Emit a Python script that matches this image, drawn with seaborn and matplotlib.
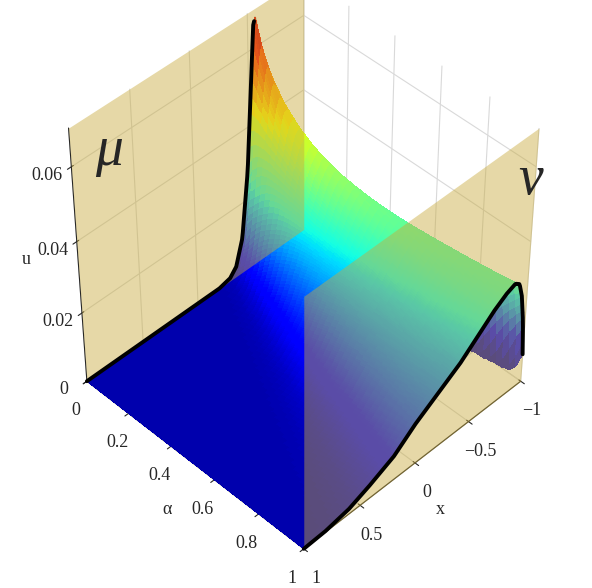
import numpy as np
import matplotlib as mpl
mpl.use('Agg')
import matplotlib.pyplot as plt
import seaborn as sns

sns.set_style('white')
plt.rcParams['font.family'] = ['Liberation Serif', 'DejaVu Serif']

# boundary densities (x, u)
mu_x = [-1.0, -0.8, -0.75, -0.7, -0.65, -0.6, -0.57, -0.55, -0.52, -0.48, -0.42, -0.36, -0.3, -0.2, 1.0]
mu_u = [0.0, 0.0, 0.002, 0.012, 0.035, 0.060, 0.068, 0.066, 0.050, 0.028, 0.010, 0.003, 0.0008, 0.0, 0.0]
nu_x = [-1.0, -0.98, -0.95, -0.92, -0.88, -0.8, -0.7, -0.55, -0.4, -0.2, 0.0, 0.2, 0.4, 0.6, 0.8, 1.0]
nu_u = [0.008, 0.018, 0.026, 0.030, 0.031, 0.030, 0.028, 0.024, 0.020, 0.016, 0.012, 0.007, 0.004, 0.0015, 0.0003, 0.0]
u_ticks = [0, 0.02, 0.04, 0.06]
alpha_ticks = [0, 0.2, 0.4, 0.6, 0.8, 1]
x_ticks = [-1, -0.5, 0, 0.5, 1]

xs = np.linspace(-1, 1, 241)
alphas = np.linspace(0, 1, 41)
mu = np.interp(xs, mu_x, mu_u)
nu = np.interp(xs, nu_x, nu_u)


def cdf(d):
    c = np.concatenate([[0], np.cumsum((d[1:] + d[:-1]) / 2 * np.diff(xs))])
    return c / c[-1], c[-1]


F_mu, m_mu = cdf(mu)
F_nu, m_nu = cdf(nu)
q = np.linspace(0, 1, 2001)
Q_mu = np.interp(q, F_mu + np.arange(len(xs)) * 1e-12, xs)
Q_nu = np.interp(q, F_nu + np.arange(len(xs)) * 1e-12, xs)

U = np.zeros((len(alphas), len(xs)))
for i, t in enumerate(alphas):
    if t == 0:
        U[i] = mu
        continue
    if t == 1:
        U[i] = nu
        continue
    Qt = (1 - t) * Q_mu + t * Q_nu
    Ft = np.interp(xs, Qt + np.arange(len(q)) * 1e-12, q)
    U[i] = np.gradient(Ft, xs) * ((1 - t) * m_mu + t * m_nu)

A, X = np.meshgrid(alphas, xs, indexing='ij')
umax = 0.068
cols = plt.cm.jet(0.04 + np.clip(U / umax, 0, 1) * 0.88)

fig = plt.figure(figsize=(5.92, 5.88), dpi=100)
ax = fig.add_axes([0.0, 0.055, 1.0, 0.98], projection='3d')
# plot axes: X = x, Y = alpha, Z = u
ax.plot_surface(X, A, U, facecolors=cols, rstride=1, cstride=1, shade=False,
                linewidth=0, antialiased=False)
rise = xs <= -0.56
ax.plot(xs[~rise], np.zeros((~rise).sum()), mu[~rise], color='black', lw=2.8, zorder=10)
ax.plot(xs[rise], np.zeros(rise.sum()), mu[rise], color='black', lw=1.5, alpha=0.25, zorder=1)
ax.plot(xs, np.ones_like(xs), nu, color='black', lw=2.8, zorder=10)

# translucent walls at alpha = 0 and alpha = 1
xx, zz = np.meshgrid([-1, 1], [0, 0.07])
wall = dict(color='#c8aa3c', alpha=0.45, shade=False, linewidth=0)
ax.plot_surface(xx, np.zeros_like(xx), zz, **wall)
ax.plot_surface(xx, np.ones_like(xx), zz, **wall)

ax.set_xlim(-1, 1)
ax.set_ylim(0, 1)
ax.set_zlim(0, 0.07)
ax.set_yticks(alpha_ticks)
ax.set_yticklabels(['0', '0.2', '0.4', '0.6', '0.8', '1'])
ax.set_xticks(x_ticks)
ax.set_xticklabels(['−1', '−0.5', '0', '0.5', '1'])
ax.set_zticks(u_ticks)
ax.set_zticklabels(['0', '0.02', '0.04', '0.06'])
ax.tick_params(labelsize=13)
ax.set_ylabel('α', fontsize=13)
ax.set_xlabel('x', fontsize=13)
ax.set_zlabel('u', fontsize=13)
for a in (ax.xaxis, ax.yaxis, ax.zaxis):
    a.set_pane_color((1, 1, 1, 1))
    a._axinfo['grid']['color'] = (0.85, 0.85, 0.85, 1)
ax.view_init(elev=45, azim=45)
ax.set_box_aspect((1, 1, 1.12), zoom=0.97)

fig.text(0.16, 0.72, 'μ', fontsize=40, style='italic')
fig.text(0.875, 0.67, 'ν', fontsize=40, style='italic')

fig.savefig('out.png', dpi=100)
